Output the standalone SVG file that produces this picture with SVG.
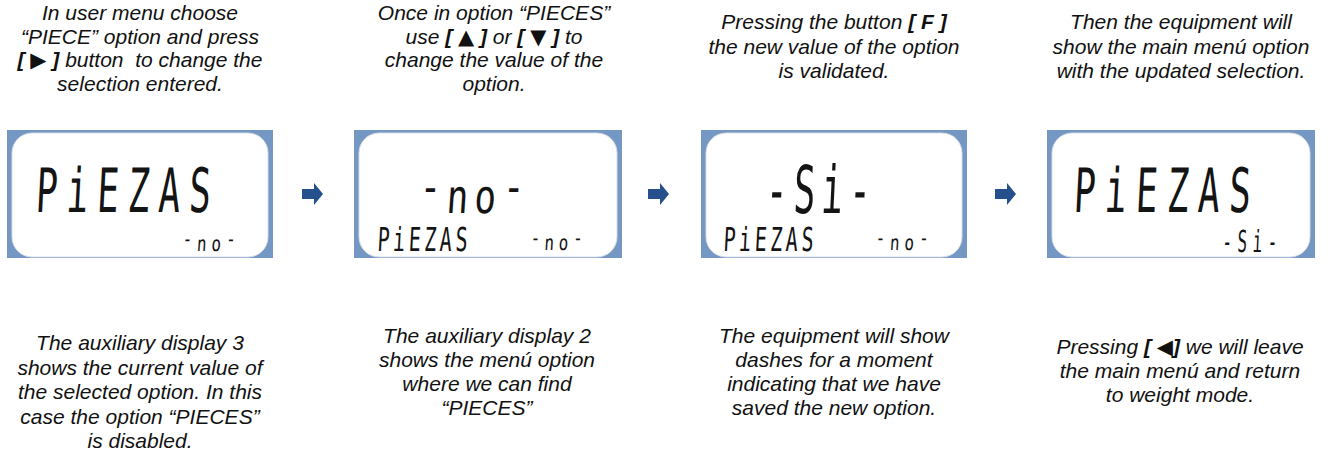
<svg xmlns="http://www.w3.org/2000/svg" width="1332" height="454" viewBox="0 0 1332 454">
  <style>
    .t { font-family: "Liberation Sans", Arial, sans-serif; font-size: 21px; font-style: italic; fill: #111; text-anchor: middle; }
    .b { font-weight: bold; }
    .sym { font-family: "DejaVu Sans", sans-serif; font-style: normal; }
    .frame { fill: #7597c4; }
    .glass { fill: #ffffff; stroke: #d6dce6; stroke-width: 1; }
    .lcd { font-family: "DejaVu Sans Mono", monospace; fill: #141414; }
    .arrow { fill: #25508c; }
  </style>
  <defs>
    <path id="step-arrow" d="M0,-5 H12 V-11 L21,0 L12,11 V5 H0 Z"/>
  </defs>

  <rect width="1332" height="454" fill="#ffffff"/>

  <!-- captions above each display -->
  <g id="caption-top-1">
    <text class="t" x="140" y="20">In user menu choose</text>
    <text class="t" x="140" y="43.5">“PIECE” option and press</text>
    <text class="t" x="140" y="67" xml:space="preserve"><tspan class="b">[ <tspan class="sym">▶</tspan> ]</tspan> button  to change the</text>
    <text class="t" x="140" y="90.5">selection entered.</text>
  </g>
  <g id="caption-top-2">
    <text class="t" x="494" y="20">Once in option “PIECES”</text>
    <text class="t" x="494" y="43.5">use <tspan class="b">[ <tspan class="sym">▲</tspan> ]</tspan> or <tspan class="b">[ <tspan class="sym">▼</tspan> ]</tspan> to</text>
    <text class="t" x="494" y="67">change the value of the</text>
    <text class="t" x="494" y="90.5">option.</text>
  </g>
  <g id="caption-top-3">
    <text class="t" x="834" y="29">Pressing the button <tspan class="b">[ F ]</tspan></text>
    <text class="t" x="834" y="53.5">the new value of the option</text>
    <text class="t" x="834" y="78">is validated.</text>
  </g>
  <g id="caption-top-4">
    <text class="t" x="1181" y="29">Then the equipment will</text>
    <text class="t" x="1181" y="53.5">show the main menú option</text>
    <text class="t" x="1181" y="78">with the updated selection.</text>
  </g>

  <!-- display 1 -->
  <g id="display-1">
    <rect class="frame" x="7" y="130" width="266" height="128"/>
    <rect class="glass" x="12" y="133" width="256" height="124" rx="20"/>
    <text class="lcd" font-size="36" textLength="175" lengthAdjust="spacing" transform="translate(35,212) scale(1,1.7) skewX(-5)">PiEZAS</text>
    <text class="lcd" font-size="16" textLength="53" lengthAdjust="spacing" transform="translate(182,251) scale(1,1.3) skewX(-5)"><tspan dy="-4">-</tspan><tspan dy="4">no</tspan><tspan dy="-4">-</tspan></text>
  </g>

  <!-- display 2 -->
  <g id="display-2">
    <rect class="frame" x="354" y="130" width="268" height="128"/>
    <rect class="glass" x="359" y="133" width="258" height="124" rx="20"/>
    <text class="lcd" font-size="36" textLength="105" lengthAdjust="spacing" transform="translate(418,213) scale(1,1.3) skewX(-5)"><tspan dy="-8">-</tspan><tspan dy="8">no</tspan><tspan dy="-8">-</tspan></text>
    <text class="lcd" font-size="20" textLength="90" lengthAdjust="spacing" transform="translate(377,251) scale(1,1.65) skewX(-5)">PiEZAS</text>
    <text class="lcd" font-size="16" textLength="52" lengthAdjust="spacing" transform="translate(530,250) scale(1,1.3) skewX(-5)"><tspan dy="-4">-</tspan><tspan dy="4">no</tspan><tspan dy="-4">-</tspan></text>
  </g>

  <!-- display 3 -->
  <g id="display-3">
    <rect class="frame" x="701" y="130" width="266" height="128"/>
    <rect class="glass" x="706" y="133" width="256" height="124" rx="20"/>
    <text class="lcd" font-size="36" textLength="105" lengthAdjust="spacing" transform="translate(765,213) scale(1,1.83) skewX(-5)">-Si-</text>
    <text class="lcd" font-size="20" textLength="90" lengthAdjust="spacing" transform="translate(723,251) scale(1,1.65) skewX(-5)">PiEZAS</text>
    <text class="lcd" font-size="16" textLength="53" lengthAdjust="spacing" transform="translate(875,250) scale(1,1.3) skewX(-5)"><tspan dy="-4">-</tspan><tspan dy="4">no</tspan><tspan dy="-4">-</tspan></text>
  </g>

  <!-- display 4 -->
  <g id="display-4">
    <rect class="frame" x="1047" y="130" width="268" height="128"/>
    <rect class="glass" x="1052" y="133" width="258" height="124" rx="20"/>
    <text class="lcd" font-size="36" textLength="177" lengthAdjust="spacing" transform="translate(1073,212) scale(1,1.7) skewX(-5)">PiEZAS</text>
    <text class="lcd" font-size="16" textLength="55" lengthAdjust="spacing" transform="translate(1222,252) scale(1,1.9) skewX(-5)">-Si-</text>
  </g>

  <!-- step arrows between displays -->
  <g id="connectors">
    <use href="#step-arrow" class="arrow" x="302" y="194"/>
    <use href="#step-arrow" class="arrow" x="648" y="194"/>
    <use href="#step-arrow" class="arrow" x="995" y="194"/>
  </g>

  <!-- captions below each display -->
  <g id="caption-bottom-1">
    <text class="t" x="140" y="350">The auxiliary display 3</text>
    <text class="t" x="140" y="374.5">shows the current value of</text>
    <text class="t" x="140" y="399">the selected option. In this</text>
    <text class="t" x="140" y="423.5">case the option “PIECES”</text>
    <text class="t" x="140" y="448">is disabled.</text>
  </g>
  <g id="caption-bottom-2">
    <text class="t" x="487" y="343">The auxiliary display 2</text>
    <text class="t" x="487" y="367">shows the menú option</text>
    <text class="t" x="487" y="391">where we can find</text>
    <text class="t" x="487" y="415">“PIECES”</text>
  </g>
  <g id="caption-bottom-3">
    <text class="t" x="834" y="343">The equipment will show</text>
    <text class="t" x="834" y="367">dashes for a moment</text>
    <text class="t" x="834" y="391">indicating that we have</text>
    <text class="t" x="834" y="415">saved the new option.</text>
  </g>
  <g id="caption-bottom-4">
    <text class="t" x="1180" y="354">Pressing <tspan class="b">[ <tspan class="sym">◀</tspan>]</tspan> we will leave</text>
    <text class="t" x="1180" y="378">the main menú and return</text>
    <text class="t" x="1180" y="402">to weight mode.</text>
  </g>
</svg>
